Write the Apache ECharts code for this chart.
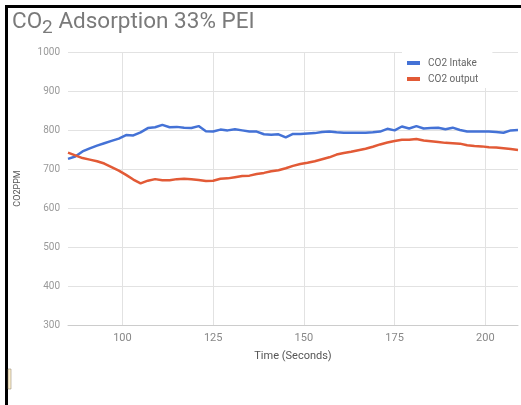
<!DOCTYPE html>
<html>
<head>
<meta charset="utf-8">
<title>CO2 Adsorption</title>
<script src="https://cdn.jsdelivr.net/npm/echarts@6/dist/echarts.min.js"></script>
<style>
  html, body { margin: 0; padding: 0; background: #fff; }
  #main { width: 521px; height: 405px; }
</style>
</head>
<body>
<div id="main"></div>
<script type="text/javascript">
// time in seconds
var times = [85, 87, 89, 91, 93, 95, 97, 99, 101, 103, 105, 107, 109, 111, 113, 115, 117, 119,
  121, 123, 125, 127, 129, 131, 133, 135, 137, 139, 141, 143, 145, 147, 149, 151, 153, 155,
  157, 159, 161, 163, 165, 167, 169, 171, 173, 175, 177, 179, 181, 183, 185, 187, 189, 191,
  193, 195, 197, 199, 201, 203, 205, 207, 209];
var intake = [726, 732, 745, 753, 760, 766, 772, 778, 787, 786, 794, 805, 807, 813, 807, 808, 806, 805,
  810, 797, 796, 801, 799, 802, 799, 796, 796, 789, 788, 789, 781, 790, 790, 791, 792, 795,
  796, 794, 793, 793, 793, 793, 794, 796, 803, 799, 809, 804, 810, 804, 805, 806, 802, 806,
  800, 796, 796, 796, 796, 795, 793, 799, 800];
var output = [742, 735, 728, 724, 720, 714, 705, 696, 685, 673, 663, 670, 674, 671, 671, 674, 675, 674,
  672, 669, 670, 675, 676, 679, 682, 683, 687, 690, 694, 697, 702, 708, 713, 716, 720, 725,
  730, 737, 741, 744, 748, 752, 757, 763, 768, 772, 775, 775, 777, 773, 771, 769, 767, 766,
  765, 761, 759, 758, 756, 755, 753, 751, 749];
var xTicks = [100, 125, 150, 175, 200];

function pairs(vals) {
  var out = [];
  for (var i = 0; i < times.length; i++) out.push([times[i], vals[i]]);
  return out;
}

var chart = echarts.init(document.getElementById('main'));
var font = 'Roboto, Arial, sans-serif';
var option = {
  backgroundColor: '#fff',
  animation: false,
  title: {
    text: '{a|CO}{s|2}{a| Adsorption 33% PEI}',
    left: 12, top: 6, padding: 0,
    textStyle: {
      rich: {
        a: { fontSize: 22.5, fontWeight: 'normal', color: '#7a7a7a', fontFamily: font, lineHeight: 32 },
        s: { fontSize: 19, fontWeight: 'normal', color: '#7a7a7a', fontFamily: font, lineHeight: 17, verticalAlign: 'bottom' }
      }
    }
  },
  legend: {
    orient: 'vertical',
    left: 402, top: 52,
    padding: [6, 14, 4, 5],
    backgroundColor: '#fff',
    itemGap: 6,
    itemWidth: 13, itemHeight: 4,
    icon: 'rect',
    textStyle: { fontSize: 10, color: '#666', fontFamily: font, padding: [0, 0, 0, 3] },
    data: ['CO2 Intake', 'CO2 output']
  },
  grid: { left: 68, right: 3, top: 52, bottom: 80 },
  xAxis: {
    type: 'value', min: 85, max: 209,
    name: 'Time (Seconds)', nameLocation: 'middle', nameGap: 26,
    nameTextStyle: { fontSize: 11, color: '#555', fontFamily: font },
    axisLine: { show: true, lineStyle: { color: '#cccccc', width: 1 } },
    axisTick: { show: false, customValues: xTicks },
    axisLabel: { customValues: xTicks, fontSize: 11, color: '#888', fontFamily: font, margin: 8 },
    splitLine: { show: true, lineStyle: { color: '#e2e2e2', width: 1 } }
  },
  yAxis: {
    type: 'value', min: 300, max: 1000, interval: 100,
    name: 'CO2PPM', nameLocation: 'middle', nameGap: 46,
    nameTextStyle: { fontSize: 9, color: '#555', fontFamily: font },
    axisLine: { show: false },
    axisTick: { show: false },
    axisLabel: { fontSize: 10, color: '#999', fontFamily: font, margin: 8,
      formatter: function (v) { return String(v); } },
    splitLine: { lineStyle: { color: '#e2e2e2', width: 1 } }
  },
  series: [
    {
      name: 'CO2 Intake', type: 'line', data: pairs(intake),
      showSymbol: false, color: '#4472d6',
      lineStyle: { width: 2.5, color: '#4472d6' }
    },
    {
      name: 'CO2 output', type: 'line', data: pairs(output),
      showSymbol: false, color: '#e25a36',
      lineStyle: { width: 2.5, color: '#e25a36' }
    }
  ],
  graphic: [
    { type: 'rect', shape: { x: 5, y: 5, width: 516, height: 3 }, style: { fill: '#000' }, z: 100 },
    { type: 'rect', shape: { x: 5, y: 5, width: 3, height: 400 }, style: { fill: '#000' }, z: 100 },
    { type: 'rect', shape: { x: 8, y: 369, width: 3, height: 20 }, style: { fill: '#fbf0d0', stroke: '#8a7a60', lineWidth: 0.5 }, z: 100 }
  ]
};
chart.setOption(option);
</script>
</body>
</html>
